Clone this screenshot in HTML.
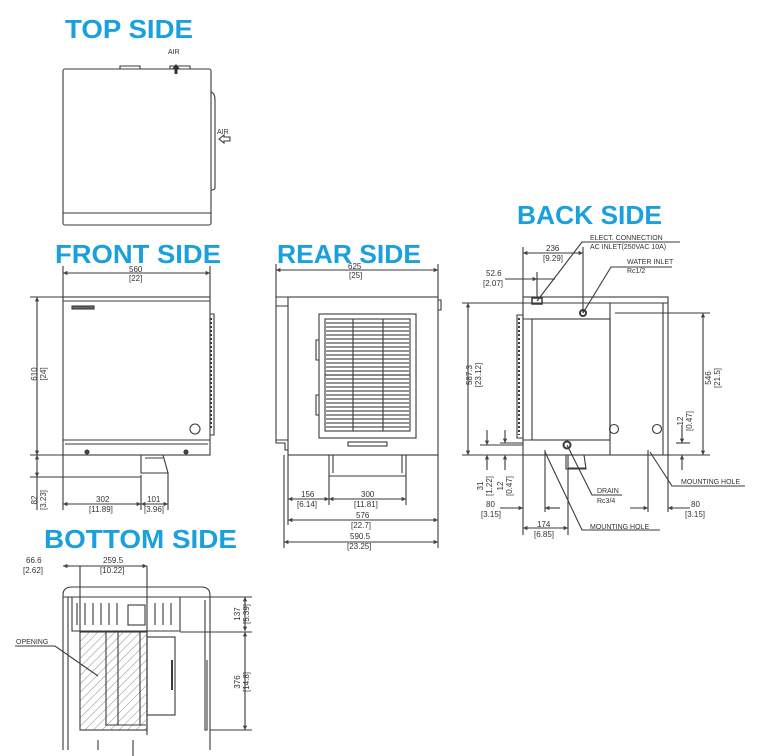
<!DOCTYPE html>
<html><head><meta charset="utf-8"><style>
html,body{margin:0;padding:0;background:#fff;width:765px;height:756px;overflow:hidden}
svg{display:block}
.t{font-family:"Liberation Sans",sans-serif;font-weight:bold;fill:#1aa0dd;font-size:26px}
.d{font-family:"Liberation Sans",sans-serif;font-size:8px;fill:#333}
.s{font-family:"Liberation Sans",sans-serif;font-size:7px;fill:#333}
</style></head><body>
<svg width="765" height="756" viewBox="0 0 765 756" xmlns="http://www.w3.org/2000/svg">
<defs>
<marker id="a" viewBox="0 0 10 10" refX="10" refY="5" markerWidth="6" markerHeight="4" orient="auto-start-reverse"><path d="M0,0L10,5L0,10z" fill="#444"/></marker>
<pattern id="h" width="6" height="6" patternUnits="userSpaceOnUse" patternTransform="rotate(45)"><line x1="0" y1="0" x2="0" y2="6" stroke="#777" stroke-width="0.8"/></pattern>
</defs>
<g fill="none" stroke="#3a3a3a" stroke-width="1.1">
<!-- TOP SIDE -->
<rect x="63" y="69" width="148" height="156" rx="2"/>
<path d="M63,213 H211"/>
<path d="M211,92 Q215,93 215,100 V188 Q215,190 211,190"/>
<path d="M120,69 V66 H140 V69 M170,69 V66 H190 V69"/>
<path d="M219,139 l5,-4 v2 h6 v4 h-6 v2z"/>
<!-- FRONT SIDE -->
<rect x="63" y="297" width="147" height="158"/>
<path d="M63,301 H210 M63,440 H210 M65,444 H208"/>
<rect x="72" y="306" width="22" height="3" fill="#666"/>
<circle cx="195" cy="429" r="5"/>
<path d="M210,314 h4 v121 h-4" />
<path d="M211,318 v112" stroke-dasharray="2,2" stroke-width="2"/>
<circle cx="87" cy="452" r="2" fill="#444"/><circle cx="186" cy="452" r="2" fill="#444"/>
<path d="M141,455 v18 h27 l-5,-18 M145,458 h18"/>
<path d="M63,273 H210" marker-start="url(#a)" marker-end="url(#a)"/>
<path d="M63,297 V266 M210,297 V266"/>
<path d="M37,297 V455" marker-start="url(#a)" marker-end="url(#a)"/>
<path d="M30,297 H63 M30,455 H63 M30,477 H141"/>
<path d="M37,455 V477" marker-start="url(#a)" marker-end="url(#a)"/>
<path d="M37,477 V510"/>
<path d="M63,455 V510 M141,475 V510 M168,473 V510"/>
<path d="M63,504 H141" marker-start="url(#a)" marker-end="url(#a)"/>
<path d="M141,504 H168" marker-start="url(#a)" marker-end="url(#a)"/>
<!-- REAR SIDE -->
<rect x="288" y="297" width="150" height="158"/>
<path d="M288,297 H276 V306 H288 M276,306 V440 H288 M276,440 v3 h9 v7 h3"/>
<rect x="319" y="314" width="97" height="124"/>
<rect x="325" y="319" width="85" height="112"/>
<g stroke="#555" stroke-width="1.2">
<path d="M326,323H409M326,327H409M326,331H409M326,335H409M326,339H409M326,343H409M326,347H409M326,351H409M326,355H409M326,359H409M326,363H409M326,367H409M326,371H409M326,375H409M326,379H409M326,383H409M326,387H409M326,391H409M326,395H409M326,399H409M326,403H409M326,407H409M326,411H409M326,415H409M326,419H409M326,423H409M326,427H409"/>
</g>
<path d="M353,319 V431 M383,319 V431 M325,375 H410"/>
<path d="M319,340 h-3 v20 h3 M319,395 h-3 v20 h3"/>
<rect x="348" y="442" width="39" height="4"/>
<path d="M438,300 h3 v10 h-3"/>
<path d="M329,455 V476 H406 V455 M333,455 v18 M402,455 v18"/>
<path d="M276,270 H438" marker-start="url(#a)" marker-end="url(#a)"/>
<path d="M276,297 V264 M438,297 V264"/>
<path d="M284,455 V548 M288,455 V525 M438,455 V548 M329,476 V505 M406,476 V505"/>
<path d="M288,499 H329" marker-start="url(#a)" marker-end="url(#a)"/>
<path d="M329,499 H406" marker-start="url(#a)" marker-end="url(#a)"/>
<path d="M288,520 H438" marker-start="url(#a)" marker-end="url(#a)"/>
<path d="M284,542 H438" marker-start="url(#a)" marker-end="url(#a)"/>
<!-- BACK SIDE -->
<rect x="523" y="297" width="145" height="158"/>
<path d="M523,303 H668 M523,319 H610 M523,440 H610 M610,303 V455 M663,303 V455"/>
<rect x="532" y="319" width="78" height="121"/>
<path d="M517,315 h6 v123 h-6z"/>
<path d="M519,318 v117" stroke-dasharray="2,2" stroke-width="2"/>
<circle cx="614" cy="429" r="4.5"/><circle cx="657" cy="429" r="4.5"/>
<circle cx="567" cy="445" r="3.5" stroke-width="2"/>
<circle cx="583" cy="313" r="3" stroke-width="2"/>
<rect x="532" y="298" width="10" height="6" stroke-width="1.5"/>
<path d="M566,455 v14 h20 l-2,-14 M568,468 h18"/>
<path d="M523,253 H583" marker-start="url(#a)" marker-end="url(#a)"/>
<path d="M523,297 V247 M583,313 V247 M537,297 V272"/>
<path d="M505,279 H537" marker-end="url(#a)"/><path d="M555,279 H537" />
<path d="M468,303 V455" marker-start="url(#a)" marker-end="url(#a)"/>
<path d="M462,303 H523 M462,455 H523"/>
<path d="M703,313 V455" marker-start="url(#a)" marker-end="url(#a)"/>
<path d="M615,313 H710 M668,455 H710"/>
<path d="M682,425 V443" marker-end="url(#a)"/><path d="M682,470 V455" marker-end="url(#a)"/>
<path d="M676,443 H690"/>
<path d="M487,430 V445" marker-end="url(#a)"/><path d="M487,470 V455" marker-end="url(#a)"/>
<path d="M505,430 V443" marker-end="url(#a)"/><path d="M505,470 V455" marker-end="url(#a)"/>
<path d="M480,445 H523 M500,443 H523"/>
<path d="M523,455 V535 M568,455 V535 M545,450 V512 M648,450 V512 M668,455 V512"/>
<path d="M500,508 H523" marker-end="url(#a)"/><path d="M560,508 H545" marker-end="url(#a)"/>
<path d="M630,508 H648" marker-end="url(#a)"/><path d="M690,508 H668" marker-end="url(#a)"/>
<path d="M523,528 H568" marker-start="url(#a)" marker-end="url(#a)"/>
<path d="M537,301 L582,242 H680"/>
<path d="M583,313 L611,267 H672"/>
<path d="M567,445 L592,495 H622"/>
<path d="M545,452 L582,530 H660"/>
<path d="M650,452 L672,486 H745"/>
<!-- BOTTOM SIDE -->
<path d="M63,750 V595 Q63,587 72,587 H201 Q210,587 210,595 V750"/>
<path d="M63,597 H210 M68,597 V750 M205,600 V730 h2 v-70"/>
<path d="M72,597 V631 H180 V597"/>
<path d="M77,603 v22 M85,603 v22 M93,603 v22 M101,603 v22 M109,603 v22 M117,603 v22 M155,603 v22 M163,603 v22 M171,603 v22"/>
<rect x="128" y="605" width="17" height="20"/>
<rect x="80" y="632" width="67" height="98" fill="url(#h)"/>
<path d="M106,632 V725 M118,632 V725 M140,632 V725 M105,725 H146"/>
<rect x="147" y="637" width="28" height="78"/>
<path d="M172,660 v30" stroke-width="2"/>
<path d="M63,566 H147" /><path d="M63,566 H70" marker-start="url(#a)"/><path d="M140,566 H147" marker-end="url(#a)"/>
<path d="M80,566 V632 M147,566 V735 M98,740 V750 M133,740 V756"/>
<path d="M245,597 V631" marker-start="url(#a)" marker-end="url(#a)"/>
<path d="M245,632 V730" marker-start="url(#a)" marker-end="url(#a)"/>
<path d="M180,597 H252 M180,632 H252 M210,730 H252"/>
<path d="M15,646 H55 L98,676"/>
</g>
<path d="M176,64 l-4,5 h2.5 v5 h3 v-5 h2.5z" fill="#333"/>
<!-- titles -->
<text class="t" x="65" y="38" textLength="128" lengthAdjust="spacingAndGlyphs">TOP SIDE</text>
<text class="t" x="55" y="263" textLength="166" lengthAdjust="spacingAndGlyphs">FRONT SIDE</text>
<text class="t" x="277" y="263" textLength="144" lengthAdjust="spacingAndGlyphs">REAR SIDE</text>
<text class="t" x="517" y="224" textLength="145" lengthAdjust="spacingAndGlyphs">BACK SIDE</text>
<text class="t" x="44" y="548" textLength="193" lengthAdjust="spacingAndGlyphs">BOTTOM SIDE</text>
<!-- labels -->
<text class="s" x="168" y="54">AIR</text>
<text class="s" x="217" y="134">AIR</text>
<text class="d" x="129" y="272">560</text><text class="d" x="129" y="281">[22]</text>
<text class="d" x="37" y="374" transform="rotate(-90 37 374)" text-anchor="middle">610</text>
<text class="d" x="46" y="374" transform="rotate(-90 46 374)" text-anchor="middle">[24]</text>
<text class="d" x="37" y="500" transform="rotate(-90 37 500)" text-anchor="middle">82</text>
<text class="d" x="46" y="500" transform="rotate(-90 46 500)" text-anchor="middle">[3.23]</text>
<text class="d" x="96" y="502">302</text><text class="d" x="89" y="512">[11.89]</text>
<text class="d" x="147" y="502">101</text><text class="d" x="144" y="512">[3.96]</text>
<text class="d" x="348" y="269">625</text><text class="d" x="349" y="278">[25]</text>
<text class="d" x="301" y="497">156</text><text class="d" x="297" y="507">[6.14]</text>
<text class="d" x="361" y="497">300</text><text class="d" x="354" y="507">[11.81]</text>
<text class="d" x="356" y="518">576</text><text class="d" x="351" y="528">[22.7]</text>
<text class="d" x="350" y="539">590.5</text><text class="d" x="347" y="549">[23.25]</text>
<text class="s" x="590" y="240">ELECT. CONNECTION</text>
<text class="s" x="590" y="249">AC INLET(250VAC 10A)</text>
<text class="s" x="627" y="264">WATER INLET</text>
<text class="s" x="627" y="273">Rc1/2</text>
<text class="d" x="546" y="251">236</text><text class="d" x="543" y="261">[9.29]</text>
<text class="d" x="486" y="276">52.6</text><text class="d" x="483" y="286">[2.07]</text>
<text class="d" x="472" y="375" transform="rotate(-90 472 375)" text-anchor="middle">587.3</text>
<text class="d" x="481" y="375" transform="rotate(-90 481 375)" text-anchor="middle">[23.12]</text>
<text class="d" x="711" y="378" transform="rotate(-90 711 378)" text-anchor="middle">546</text>
<text class="d" x="720" y="378" transform="rotate(-90 720 378)" text-anchor="middle">[21.5]</text>
<text class="d" x="683" y="421" transform="rotate(-90 683 421)" text-anchor="middle">12</text>
<text class="d" x="692" y="421" transform="rotate(-90 692 421)" text-anchor="middle">[0.47]</text>
<text class="d" x="483" y="486" transform="rotate(-90 483 486)" text-anchor="middle">31</text>
<text class="d" x="492" y="486" transform="rotate(-90 492 486)" text-anchor="middle">[1.22]</text>
<text class="d" x="503" y="486" transform="rotate(-90 503 486)" text-anchor="middle">12</text>
<text class="d" x="512" y="486" transform="rotate(-90 512 486)" text-anchor="middle">[0.47]</text>
<text class="d" x="486" y="507">80</text><text class="d" x="481" y="517">[3.15]</text>
<text class="d" x="691" y="507">80</text><text class="d" x="685" y="517">[3.15]</text>
<text class="d" x="537" y="527">174</text><text class="d" x="534" y="537">[6.85]</text>
<text class="s" x="597" y="493">DRAIN</text>
<text class="s" x="597" y="503">Rc3/4</text>
<text class="s" x="681" y="484">MOUNTING HOLE</text>
<text class="s" x="590" y="529">MOUNTING HOLE</text>
<text class="d" x="26" y="563">66.6</text><text class="d" x="23" y="573">[2.62]</text>
<text class="d" x="103" y="563">259.5</text><text class="d" x="100" y="573">[10.22]</text>
<text class="d" x="240" y="614" transform="rotate(-90 240 614)" text-anchor="middle">137</text>
<text class="d" x="249" y="614" transform="rotate(-90 249 614)" text-anchor="middle">[5.39]</text>
<text class="d" x="240" y="682" transform="rotate(-90 240 682)" text-anchor="middle">376</text>
<text class="d" x="249" y="682" transform="rotate(-90 249 682)" text-anchor="middle">[14.8]</text>
<text class="s" x="16" y="644">OPENING</text>
</svg>
</body></html>
